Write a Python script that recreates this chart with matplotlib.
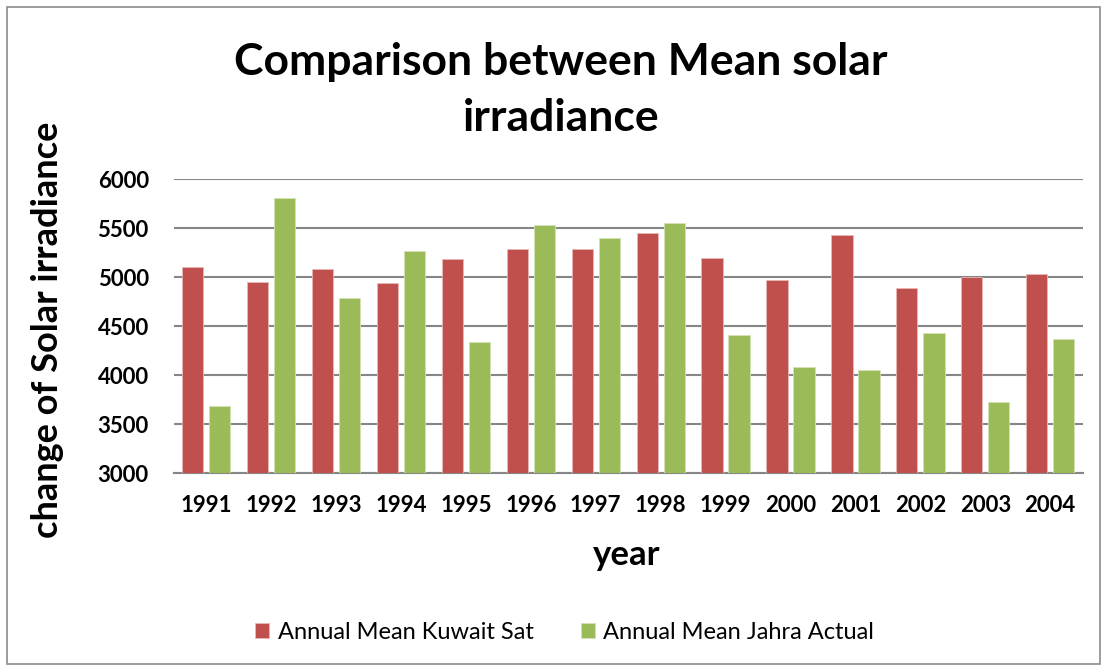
import matplotlib.pyplot as plt
from matplotlib.patches import Rectangle
import numpy as np

plt.rcParams['font.family'] = ['Lato', 'DejaVu Sans']

# data
years = ['1991', '1992', '1993', '1994', '1995', '1996', '1997',
         '1998', '1999', '2000', '2001', '2002', '2003', '2004']
kuwait_sat = [5100, 4955, 5080, 4945, 5185, 5285, 5285,
              5450, 5200, 4970, 5425, 4885, 5000, 5030]
jahra_actual = [3680, 5810, 4790, 5265, 4340, 5535, 5395,
                5550, 4410, 4085, 4050, 4425, 3725, 4370]

RED = '#C0504D'
GREEN = '#9BBB59'

fig = plt.figure(figsize=(11.07, 6.71), dpi=100)
ax = fig.add_axes([0.157, 0.295, 0.821, 0.438])

x = np.arange(len(years))
w = 0.328
ax.bar(x - 0.208, kuwait_sat, w, color=RED, edgecolor='#E8B8B6', linewidth=0.6,
       label='Annual Mean Kuwait Sat', zorder=3)
ax.bar(x + 0.208, jahra_actual, w, color=GREEN, edgecolor='#D3E2B5', linewidth=0.6,
       label='Annual Mean Jahra Actual', zorder=3)

ax.set_ylim(3000, 6000)
ax.set_xlim(-0.5, len(years) - 0.5)
ax.set_yticks(range(3000, 6001, 500))
ax.set_xticks(x)
ax.set_xticklabels(years)
ax.yaxis.grid(True, color='#868686', linewidth=1.5, zorder=0)
ax.set_axisbelow(True)
for s in ['top', 'right', 'left']:
    ax.spines[s].set_visible(False)
ax.spines['bottom'].set_color('#868686')
ax.spines['bottom'].set_linewidth(1.5)
ax.tick_params(length=0, labelsize=16)
ax.tick_params(axis='y', pad=18)
ax.tick_params(axis='x', pad=16)
for lab in ax.get_xticklabels() + ax.get_yticklabels():
    lab.set_fontweight('bold')

fig.text(0.566, 0.173, 'year', fontsize=25, fontweight='bold',
         ha='center', va='center')
fig.text(0.043, 0.508, 'change of Solar irradiance', rotation=90,
         fontsize=26, fontweight='bold', ha='center', va='center')

fig.text(0.507, 0.866, 'Comparison between Mean solar\nirradiance',
         fontsize=32, fontweight='bold', ha='center', va='center',
         linespacing=1.48)

fig.legend(loc='center', bbox_to_anchor=(0.51, 0.057), ncol=2, frameon=False,
           fontsize=17, handlelength=0.6, handleheight=0.6, columnspacing=2.0,
           handletextpad=0.35)

fig.patches.append(Rectangle((7 / 1107, 7 / 671), 1093 / 1107, 657 / 671,
                             transform=fig.transFigure, fill=False,
                             edgecolor='#8C8C8C', linewidth=1.2))

fig.savefig('out.png', dpi=100)
